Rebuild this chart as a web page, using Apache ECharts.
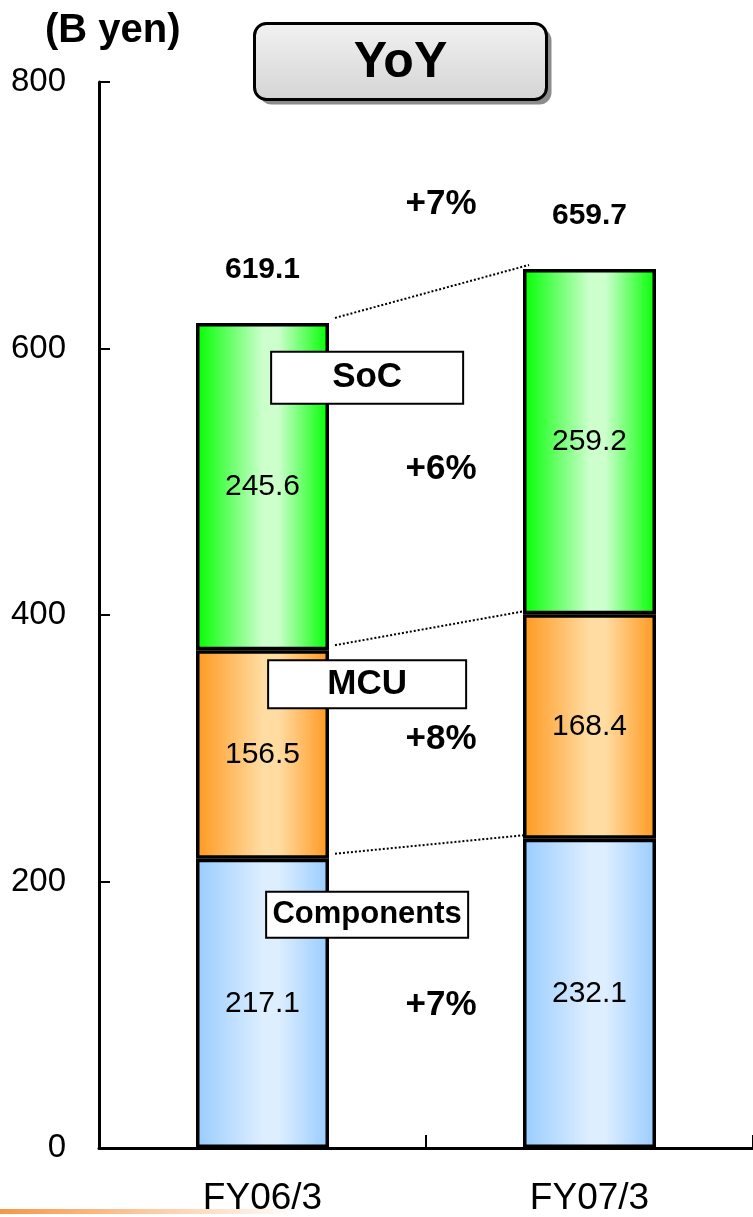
<!DOCTYPE html>
<html>
<head>
<meta charset="utf-8">
<script src="https://cdn.jsdelivr.net/npm/echarts@6/dist/echarts.min.js"></script>
<style>
  html, body { margin: 0; padding: 0; background: #fff; }
  #chart { width: 753px; height: 1217px; }
</style>
</head>
<body>
<div id="chart"></div>
<script>
// Sales by segment, billions of yen
const categories = ['FY06/3', 'FY07/3'];
const segmentNames = ['Components', 'MCU', 'SoC'];
const components = [217.1, 232.1];
const mcu = [156.5, 168.4];
const soc = [245.6, 259.2];
const totals = [619.1, 659.7];
const segmentGrowth = ['+7%', '+8%', '+6%'];
const totalGrowth = '+7%';

// Placement of the annotations (x on a 0..2 band scale, y in axis units)
const layout = {
  nameX: 0.82,
  nameY: [175, 348, 578],
  nameBox: [[196, 44], [192, 46], [186, 50]],
  nameFont: [31, 35, 35],
  growthX: 1.046,
  growthY: [107, 307, 509],
  totalGrowthY: 708
};

const FONT = '"Liberation Sans", Arial, sans-serif';

function hGrad(edge, mid) {
  return new echarts.graphic.LinearGradient(0, 0, 1, 0, [
    { offset: 0, color: edge },
    { offset: 0.5, color: mid },
    { offset: 0.62, color: mid },
    { offset: 1, color: edge }
  ]);
}

const fills = [
  hGrad('#99ccff', '#ddeeff'),
  hGrad('#ff981f', '#ffdca2'),
  hGrad('#00ff00', '#ccffcc')
];
const segValues = [components, mcu, soc];

const barSeries = segValues.map((vals, k) => ({
  name: segmentNames[k],
  type: 'bar',
  stack: 'sales',
  barWidth: 133,
  data: vals,
  itemStyle: { color: fills[k], borderColor: '#000', borderWidth: 3.5 },
  label: {
    show: true,
    position: 'inside',
    fontFamily: FONT,
    fontSize: 30,
    color: '#000',
    formatter: p => p.value.toFixed(1)
  },
  z: 3
}));

// Cumulative stack tops for the connector lines
const levels = [0, 1, 2].map(k =>
  categories.map((_, i) => segValues.slice(0, k + 1).reduce((s, a) => s + a[i], 0))
);

const connectorSeries = {
  type: 'custom',
  xAxisIndex: 0,
  yAxisIndex: 0,
  data: levels.map(l => [0, l[0]]),
  encode: { x: 0, y: 1 },
  silent: true,
  z: 2,
  renderItem: (params, api) => {
    const l = levels[params.dataIndex];
    const half = 66.5;
    const p1 = api.coord([0, l[0]]);
    const p2 = api.coord([1, l[1]]);
    return {
      type: 'line',
      shape: { x1: p1[0] + half + 6, y1: p1[1] - 5, x2: p2[0] - half + 6, y2: p2[1] - 4 },
      style: { stroke: '#000', lineWidth: 2, lineDash: [2, 2] }
    };
  }
};

// Invisible anchor points that only carry text
const anchorStyle = { color: 'transparent', opacity: 1 };

const totalSeries = {
  type: 'scatter',
  xAxisIndex: 0,
  yAxisIndex: 0,
  data: totals,
  symbolSize: 1,
  itemStyle: anchorStyle,
  silent: true,
  label: {
    show: true,
    position: 'top',
    distance: 38,
    fontFamily: FONT,
    fontSize: 30,
    fontWeight: 'bold',
    color: '#000',
    formatter: p => p.value.toFixed(1)
  },
  z: 5
};

const nameSeries = {
  type: 'scatter',
  xAxisIndex: 1,
  yAxisIndex: 0,
  symbolSize: 1,
  itemStyle: anchorStyle,
  silent: true,
  z: 6,
  data: segmentNames.map((n, k) => ({
    value: [layout.nameX, layout.nameY[k]],
    name: n,
    label: {
      width: layout.nameBox[k][0],
      height: layout.nameBox[k][1],
      lineHeight: layout.nameBox[k][1],
      fontSize: layout.nameFont[k]
    }
  })),
  label: {
    show: true,
    position: 'inside',
    formatter: p => p.name,
    fontFamily: FONT,
    fontWeight: 'bold',
    color: '#000',
    align: 'center',
    verticalAlign: 'middle',
    backgroundColor: '#fff',
    borderColor: '#000',
    borderWidth: 2,
    padding: [0, 2]
  }
};

const growthSeries = {
  type: 'scatter',
  xAxisIndex: 1,
  yAxisIndex: 0,
  symbolSize: 1,
  itemStyle: anchorStyle,
  silent: true,
  z: 6,
  data: segmentGrowth.map((g, k) => ({ value: [layout.growthX, layout.growthY[k]], name: g }))
    .concat([{ value: [layout.growthX, layout.totalGrowthY], name: totalGrowth }]),
  label: {
    show: true,
    position: 'inside',
    formatter: p => p.name,
    fontFamily: FONT,
    fontSize: 35,
    fontWeight: 'bold',
    color: '#000'
  }
};

const chart = echarts.init(document.getElementById('chart'), null, { renderer: 'canvas' });
chart.setOption({
  animation: false,
  backgroundColor: '#fff',
  grid: { left: 99, right: 0, top: 82, bottom: 67 },
  xAxis: [
    {
      type: 'category',
      data: categories,
      boundaryGap: true,
      axisLine: { lineStyle: { color: '#000', width: 3 } },
      axisTick: { show: true, inside: true, length: 13, lineStyle: { color: '#000', width: 2 } },
      axisLabel: { fontFamily: FONT, fontSize: 37, color: '#000', margin: 32 }
    },
    { type: 'value', min: 0, max: 2, show: false }
  ],
  yAxis: {
    type: 'value',
    min: 0,
    max: 800,
    interval: 200,
    axisLine: { show: true, lineStyle: { color: '#000', width: 3 } },
    axisTick: { show: true, inside: true, length: 11, lineStyle: { color: '#000', width: 2 } },
    splitLine: { show: false },
    axisLabel: { fontFamily: FONT, fontSize: 33, color: '#000', margin: 33 }
  },
  series: [...barSeries, connectorSeries, totalSeries, nameSeries, growthSeries],
  graphic: [
    {
      type: 'text',
      left: 45,
      top: 11,
      style: { text: '(B yen)', fontFamily: FONT, fontSize: 40, fontWeight: 'bold', fill: '#000' }
    },
    {
      type: 'group',
      left: 253,
      top: 22,
      children: [
        { type: 'rect', shape: { x: 5, y: 5, width: 292, height: 76, r: 12 }, style: { fill: '#8c8c8c' } },
        {
          type: 'rect',
          shape: { x: 0, y: 0, width: 292, height: 76, r: 12 },
          style: {
            fill: new echarts.graphic.LinearGradient(0, 0, 0, 1, [
              { offset: 0, color: '#f2f2f2' },
              { offset: 1, color: '#d4d4d4' }
            ]),
            stroke: '#000',
            lineWidth: 3
          }
        },
        {
          type: 'text',
          style: {
            x: 146, y: 40, text: 'YoY', align: 'center', verticalAlign: 'middle',
            fontFamily: FONT, fontSize: 50, fontWeight: 'bold', fill: '#000'
          }
        }
      ]
    },
    {
      type: 'rect',
      left: 0,
      top: 1209,
      shape: { width: 300, height: 5 },
      style: {
        fill: new echarts.graphic.LinearGradient(0, 0, 1, 0, [
          { offset: 0, color: 'rgba(247,150,70,1)' },
          { offset: 1, color: 'rgba(247,150,70,0)' }
        ])
      },
      z: 10
    }
  ]
});
</script>
</body>
</html>
